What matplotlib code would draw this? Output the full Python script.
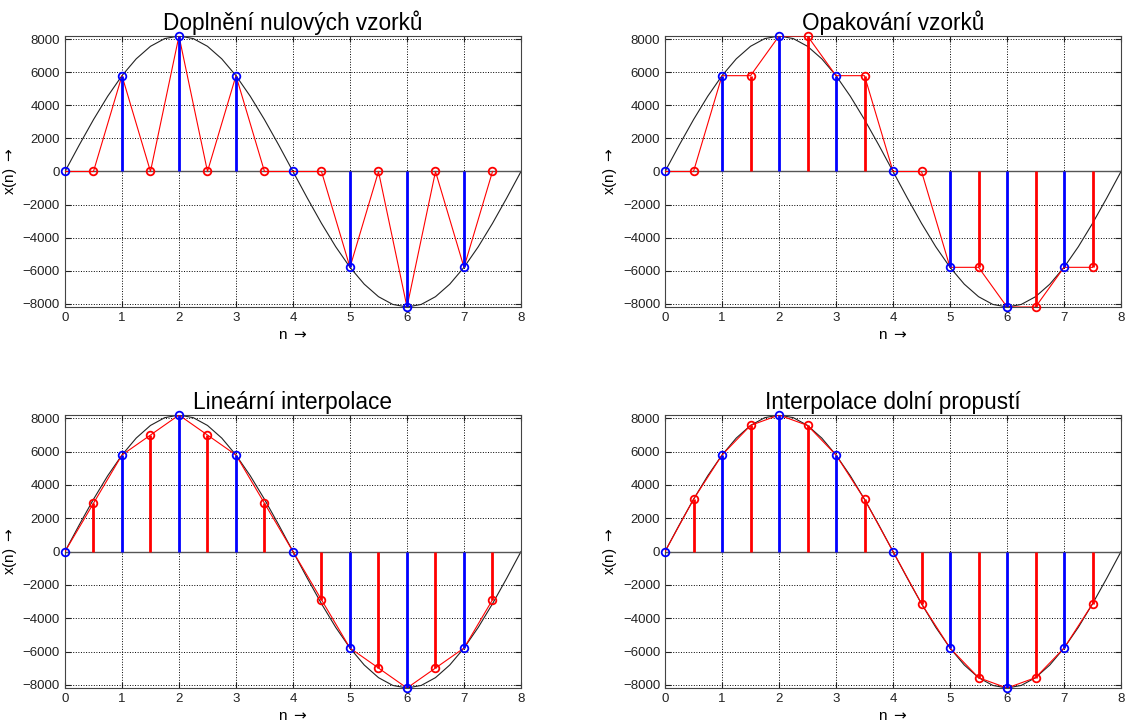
import numpy as np
import matplotlib.pyplot as plt

plt.rcParams['font.family'] = ['Liberation Sans', 'DejaVu Sans']

# samples at integer n
n_int = [0, 1, 2, 3, 4, 5, 6, 7]
x_int = [0, 5793, 8192, 5793, 0, -5793, -8192, -5793]

# inserted samples at half n, one list per method
n_half = [0.5, 1.5, 2.5, 3.5, 4.5, 5.5, 6.5, 7.5]
x_zeros = [0, 0, 0, 0, 0, 0, 0, 0]
x_repeat = [0, 5793, 8192, 5793, 0, -5793, -8192, -5793]
x_linear = [2896, 6992, 6992, 2896, -2896, -6992, -6992, -2896]
x_lowpass = [3135, 7568, 7568, 3135, -3135, -7568, -7568, -3135]

# original continuous signal, read at quarter steps
n_curve = [k * 0.25 for k in range(33)]
x_curve = [0, 1598, 3135, 4551, 5793, 6811, 7568, 8035, 8192, 8035, 7568, 6811,
           5793, 4551, 3135, 1598, 0, -1598, -3135, -4551, -5793, -6811, -7568,
           -8035, -8192, -8035, -7568, -6811, -5793, -4551, -3135, -1598, 0]

titles = ['Doplnění nulových vzorků', 'Opakování vzorků',
          'Lineární interpolace', 'Interpolace dolní propustí']
halves = [x_zeros, x_repeat, x_linear, x_lowpass]

fig = plt.figure(figsize=(11.26, 7.27), dpi=100)
positions = [[0.0577, 0.5777, 0.405, 0.3728], [0.5906, 0.5777, 0.405, 0.3728],
             [0.0577, 0.0536, 0.405, 0.3755], [0.5906, 0.0536, 0.405, 0.3755]]

for pos, title, x_half in zip(positions, titles, halves):
    ax = fig.add_axes(pos)
    ax.plot(n_curve, x_curve, color='#222222', lw=0.8, zorder=2)
    ax.plot([0, 8], [0, 0], color='#555555', lw=1.0, zorder=2)

    # all samples in order, joined by a thin red line
    both = sorted(zip(n_int + n_half, x_int + x_half))
    ax.plot([p[0] for p in both], [p[1] for p in both], color='red', lw=0.8, zorder=3)

    ax.vlines(n_half, 0, x_half, color='red', lw=2, zorder=4)
    ax.vlines(n_int, 0, x_int, color='blue', lw=2, zorder=4)
    ax.plot(n_half, x_half, 'o', mfc='none', mec='red', ms=5.5, mew=1.3, zorder=5,
            clip_on=False)
    ax.plot(n_int, x_int, 'o', mfc='none', mec='blue', ms=5.5, mew=1.3, zorder=6,
            clip_on=False)

    ax.set_xlim(0, 8)
    ax.set_ylim(-8192, 8192)
    ax.set_xticks(range(9))
    ax.set_yticks(range(-8000, 8001, 2000))
    ax.grid(True, linestyle=':', color='black', lw=0.7)
    ax.tick_params(direction='in', top=True, right=True, length=4, labelsize=9.5,
                   colors='#222222')
    for s in ax.spines.values():
        s.set_color('#444444')
    ax.set_title(title, fontsize=16.3, pad=4)
    ax.set_xlabel('n $\\rightarrow$', fontsize=11, labelpad=3)
    ax.set_ylabel('x(n) $\\rightarrow$', fontsize=11, labelpad=3)

fig.savefig('out.png', dpi=100)
